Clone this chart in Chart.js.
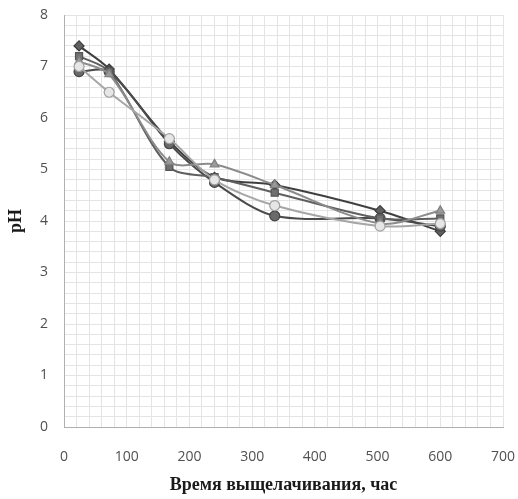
<!DOCTYPE html>
<html>
<head>
<meta charset="utf-8">
<script src="https://cdn.jsdelivr.net/npm/chart.js@4/dist/chart.umd.min.js"></script>
<style>
html,body{margin:0;padding:0;background:#fff;}
#wrap{width:518px;height:499px;position:relative;}
</style>
</head>
<body>
<div id="wrap"><canvas id="c" width="518" height="499"></canvas></div>
<script>
const hours = [24, 72, 168, 240, 336, 504, 600];
const seriesDiamond = [7.4, 6.95, 5.55, 4.85, 4.7, 4.2, 3.8];
const seriesSquare = [7.2, 6.9, 5.05, 4.85, 4.55, 4.05, 4.05];
const seriesTriangle = [7.1, 6.85, 5.15, 5.1, 4.7, 3.95, 4.2];
const seriesCircle = [6.9, 6.9, 5.5, 4.75, 4.1, 4.05, 3.9];
const seriesOpenCircle = [7.0, 6.5, 5.6, 4.8, 4.3, 3.9, 3.95];
const xTitle = "Время выщелачивания, час";
const yTitle = "pH";

function pts(vals){ return hours.map((h,i)=>({x:h,y:vals[i]})); }
function ds(vals, style, line, fill, border){
  return {data:pts(vals), borderColor:line, backgroundColor:fill, pointBorderColor:border,
    pointBackgroundColor:fill, pointStyle:style, pointRadius:5, pointBorderWidth:1.2,
    borderWidth:2, tension:0.3, fill:false};
}
new Chart(document.getElementById('c'), {
  type:'line',
  data:{datasets:[
    ds(seriesOpenCircle,'circle','#a6a6a6','#e6e6e6','#a0a0a0'),
    ds(seriesTriangle,'triangle','#8c8c8c','#9a9a9a','#808080'),
    ds(seriesSquare,'rect','#5f5f5f','#707070','#555'),
    ds(seriesCircle,'circle','#4a4a4a','#6a6a6a','#444'),
    ds(seriesDiamond,'rectRot','#3f3f3f','#606060','#3a3a3a')
  ]},
  options:{
    responsive:false, animation:false,
    layout:{padding:{top:15,right:15,bottom:0,left:0}},
    plugins:{legend:{display:false},tooltip:{enabled:false}},
    scales:{
      x:{type:'linear',min:0,max:700,
        afterFit:s=>{s.height=72;},
        border:{color:'#b0b0b0',width:1},
        grid:{color:'#e4e4e4',drawTicks:true,tickLength:22,tickColor:'rgba(0,0,0,0)'},
        ticks:{stepSize:20,autoSkip:false,maxRotation:0,padding:0,color:'#505050',
          font:{family:'Open Sans',size:14},
          callback:v=> (v%100===0)? String(v) : ''},
        title:{display:true,text:xTitle,color:'#1a1a1a',padding:{top:0,bottom:3},
          font:{family:'Liberation Serif',size:18,weight:'bold'}}
      },
      y:{type:'linear',min:0,max:8,
        afterFit:s=>{s.width=64;},
        border:{color:'#b0b0b0',width:1},
        grid:{color:'#e4e4e4',drawTicks:true,tickLength:16,tickColor:'rgba(0,0,0,0)'},
        ticks:{stepSize:0.2,autoSkip:false,padding:0,color:'#505050',
          font:{family:'Open Sans',size:14},
          callback:v=>{const r=Math.round(v*10)/10; return Number.isInteger(r)? String(r):'';}},
        title:{display:true,text:yTitle,color:'#1a1a1a',padding:{top:6,bottom:0},
          font:{family:'Liberation Serif',size:18,weight:'bold'}}
      }
    }
  }
});
</script>
</body>
</html>
